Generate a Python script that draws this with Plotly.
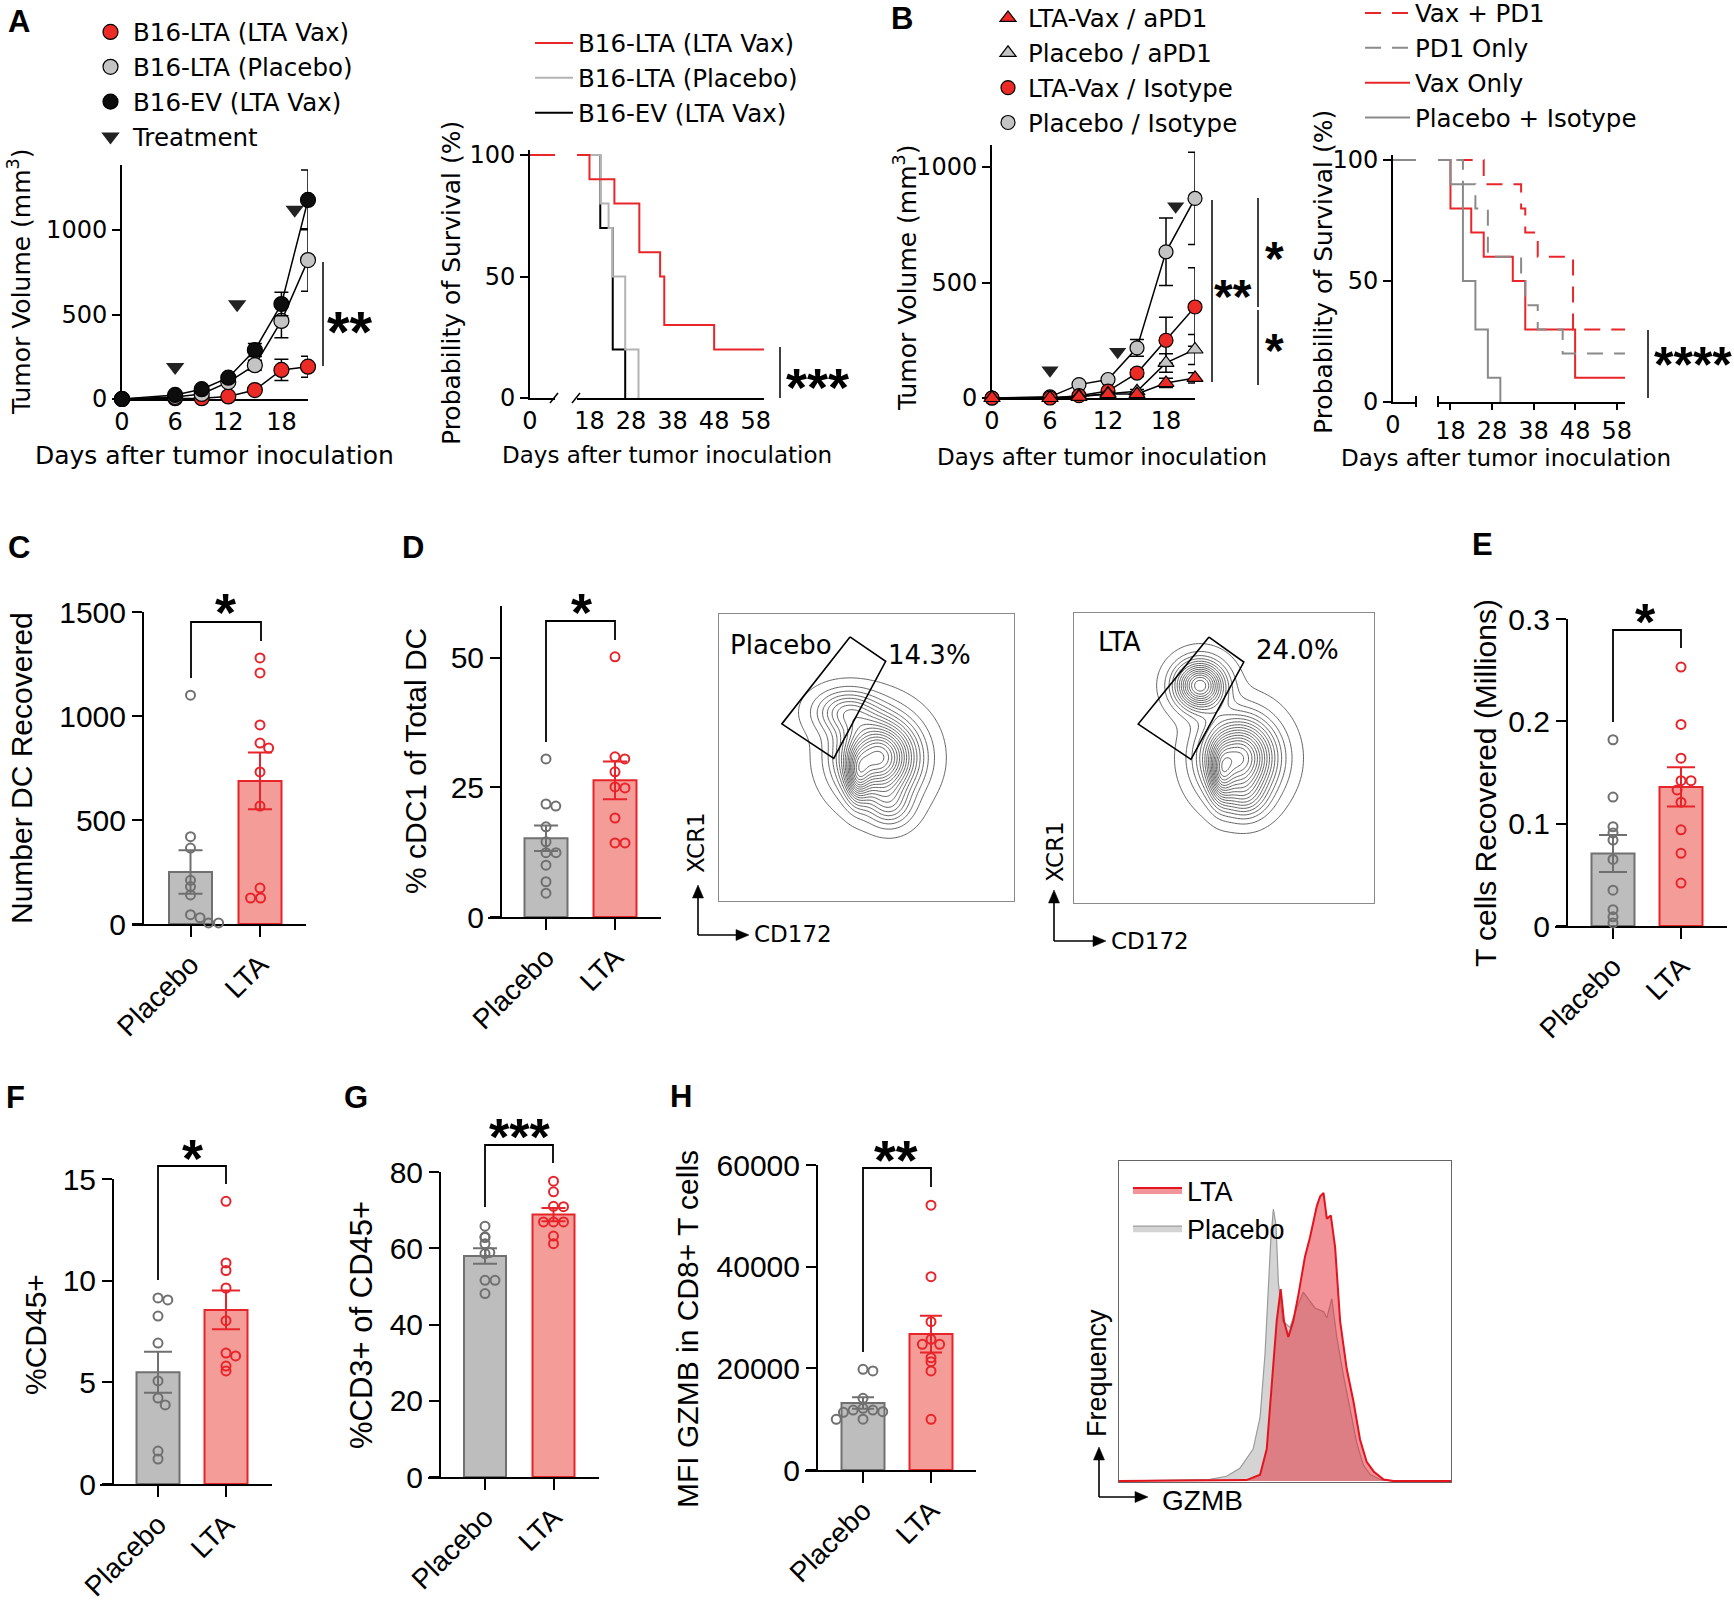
import math
import numpy as np
import plotly.graph_objects as go

# ======================= DATA =======================
# Panel A (left): tumour growth, mean +/- SEM (mm^3)
a_days = [0, 6, 9, 12, 15, 18, 21]
a_lta_vax = [0, 5, 5, 15, 53, 172, 191]
a_lta_vax_sem = [0, 0, 0, 5, 12, 63, 62]
a_placebo = [0, 12, 30, 100, 200, 462, 822]
a_placebo_sem = [0, 0, 5, 10, 30, 100, 185]
a_ev = [0, 24, 58, 126, 290, 562, 1178]
a_ev_sem = [0, 5, 8, 15, 38, 70, 177]
a_treat_days = [6, 13, 19.5]
a_treat_vol = [190, 560, 1120]
a_names = ["B16-LTA (LTA Vax)", "B16-LTA (Placebo)", "B16-EV (LTA Vax)", "Treatment"]

# Panel A (right): survival (%)
a_surv_lta_t = [0, 18, 24, 30, 35, 36, 48, 60]
a_surv_lta_s = [100, 90, 80, 60, 50, 30, 20, 20]
a_surv_plc_t = [0, 20.6, 22.6, 23.6, 26.6, 29.8]
a_surv_plc_s = [100, 80, 70, 50, 20, 0]
a_surv_ev_t = [0, 20.6, 23.6, 26.6]
a_surv_ev_s = [100, 70, 20, 0]

# Panel B (left): tumour growth
b_days = [0, 6, 9, 12, 15, 18, 21]
b_lta_apd1 = [0, 0, 5, 17, 17, 65, 87]
b_lta_apd1_sem = [0, 0, 0, 3, 5, 20, 22]
b_plc_apd1 = [0, 0, 8, 20, 29, 152, 210]
b_plc_apd1_sem = [0, 0, 0, 5, 8, 40, 65]
b_lta_iso = [0, 0, 10, 30, 108, 250, 394]
b_lta_iso_sem = [0, 0, 0, 5, 15, 100, 170]
b_plc_iso = [0, 5, 58, 80, 217, 633, 864]
b_plc_iso_sem = [0, 0, 5, 10, 36, 146, 200]
b_treat_days = [6, 13, 19]
b_treat_vol = [120, 200, 830]
b_names = ["LTA-Vax / aPD1", "Placebo / aPD1", "LTA-Vax / Isotype", "Placebo / Isotype"]

# Panel B (right): survival (%)
b_surv_vaxpd1_t = [0, 26, 35, 36, 39, 47.5, 60]
b_surv_vaxpd1_s = [100, 90, 80, 70, 60, 30, 30]
b_surv_pd1_t = [0, 21, 24, 27, 35, 36, 39, 45, 60]
b_surv_pd1_s = [100, 90, 80, 60, 50, 40, 30, 20, 20]
b_surv_vax_t = [0, 18, 23, 26, 33, 36, 48, 60]
b_surv_vax_s = [100, 80, 70, 60, 50, 30, 10, 10]
b_surv_plc_t = [0, 18, 21, 24, 27, 30]
b_surv_plc_s = [100, 90, 50, 30, 10, 0]
b_surv_names = ["Vax + PD1", "PD1 Only", "Vax Only", "Placebo + Isotype"]

# Bar / dot panels (individual animals)
categories = ["Placebo", "LTA"]
c_placebo = [1100, 420, 365, 210, 180, 140, 45, 30, 5, 5]
c_lta = [1279, 1207, 957, 870, 846, 731, 567, 173, 125, 125]
d_placebo = [30.5, 21.8, 21.4, 17.4, 14.5, 12.4, 12.4, 10.0, 6.8, 4.6]
d_lta = [50.2, 30.9, 30.5, 28.0, 25.1, 24.9, 19.1, 14.3, 14.3]
e_placebo = [0.182, 0.126, 0.097, 0.091, 0.084, 0.065, 0.035, 0.016, 0.009, 0.003]
e_lta = [0.253, 0.197, 0.164, 0.142, 0.142, 0.133, 0.121, 0.094, 0.071, 0.042]
f_placebo = [9.15, 9.05, 8.26, 6.93, 5.07, 4.23, 3.89, 1.62, 1.23]
f_lta = [13.9, 10.87, 10.5, 9.64, 8.03, 6.44, 6.3, 5.8, 5.56]
g_placebo = [65.8, 62.8, 63.0, 61.2, 58.9, 58.6, 51.6, 51.6, 48.1]
g_lta = [77.6, 74.8, 71.0, 70.9, 66.9, 66.9, 66.9, 63.2, 61.2]
h_placebo = [19800, 19500, 14100, 11800, 11800, 12130, 11470, 11340, 9970, 10000]
h_lta = [52100, 38030, 29180, 25700, 24720, 24720, 22100, 21300, 19480, 9970]

# Flow cytometry (D): density populations, CD172 (x) vs XCR1 (y), 0-100 scale
flow_plc_cx = [54, 58, 43, 47]
flow_plc_cy = [50, 33, 66, 43]
flow_plc_sx = [8.5, 5.0, 7.0, 2.6]
flow_plc_sy = [9.0, 5.0, 5.0, 6.0]
flow_plc_w = [1.0, 0.22, 0.33, 0.35]
flow_lta_cx = [55, 57, 42, 49]
flow_lta_cy = [50, 36, 75, 44]
flow_lta_sx = [8.0, 5.0, 5.5, 2.5]
flow_lta_sy = [9.0, 5.0, 5.5, 6.5]
flow_lta_w = [1.0, 0.22, 0.85, 0.35]
gate_plc_x = [44.4, 56.5, 38.9, 21.3, 44.4]
gate_plc_y = [92, 83.5, 49.7, 61.7, 92]
gate_lta_x = [45, 56.6, 39, 21.4, 45]
gate_lta_y = [91.7, 83.1, 49.5, 61.7, 91.7]
flow_pct = ["14.3%", "24.0%"]

# Panel H histogram (GZMB, % of max height)
hist_plc_x = [0, 27.4, 32.4, 36.4, 40.4, 42.5, 44.0, 45.0, 45.7, 46.5, 47.3, 48.0, 49.3, 51.5,
              53.5, 55.5, 57.0, 59.1, 61.6, 62.6, 64.1, 65.6, 67.6, 69.6, 71.6, 73.6, 75.7,
              78.7, 82.7, 100]
hist_plc_h = [0, 0.5, 1.5, 4, 10, 20, 40, 60, 75, 85, 80, 62, 50, 48,
              54, 59, 57, 54, 53, 51, 57, 45, 33, 22, 12, 5, 2,
              0.5, 0, 0]
hist_lta_x = [0, 38.4, 42.5, 44.5, 46.0, 47.5, 48.7, 49.7, 51.0, 52.5, 54.0, 56.0, 57.5, 59.6,
              60.6, 61.6, 62.6, 63.8, 65.1, 66.6, 68.6, 70.6, 72.6, 74.6, 76.7, 79.7, 82.7, 100]
hist_lta_h = [0, 0.3, 2, 10, 30, 50, 60, 50, 45, 50, 58, 70, 76, 86,
              89, 90, 82, 83, 73, 50, 35, 25, 13, 6, 3, 0.5, 0, 0]

# ======================= HELPERS =======================
W, H = 1734, 1603
FA = "DejaVu Sans, Verdana, sans-serif"          # wide font (panels A, B, flow)
FB = "Liberation Sans, Arial, Helvetica, sans-serif"  # GraphPad panels
RED = "#e8262a"
RED_FILL = "#ec2b26"
GRAY_FILL = "#c4c4c4"
GRAYBAR = "#bdbdbd"
GRAYEDGE = "#707070"
REDBAR = "#f49c97"
REDEDGE = "#e8242b"


def fx(p):
    return p / W


def fy(p):
    return 1 - p / H


def ydom(p0, v0, p1, v1, rmin, rmax):
    s = (p0 - p1) / (v1 - v0)
    return [fy(p0 + (v0 - rmin) * s), fy(p0 - (rmax - v0) * s)]


def axis(font=FA, size=24, **kw):
    base = dict(showline=True, linecolor="black", linewidth=2, ticks="outside",
                tickcolor="black", tickwidth=2, ticklen=8, showgrid=False,
                zeroline=False, tickfont=dict(family=font, size=size, color="black"),
                layer="below traces", fixedrange=True, automargin=False)
    base.update(kw)
    return base


fig = go.Figure()
layout = {}
anns = []
shapes = []


def text(x, y, s, size, font=FA, bold=False, angle=0, xanchor="center", yanchor="middle"):
    anns.append(dict(x=fx(x), y=fy(y), xref="paper", yref="paper",
                     text=("<b>%s</b>" % s) if bold else s, showarrow=False,
                     font=dict(family=font, size=size, color="black"),
                     textangle=angle, xanchor=xanchor, yanchor=yanchor))


def letter(x, y, s):
    text(x, y, s, 31, font=FB, bold=True)


def stars(x, y, s, size):
    text(x, y + 0.23 * size, s, size, font=FB, bold=True)


def pline(x0, y0, x1, y1, w=1.5, color="black"):
    shapes.append(dict(type="line", xref="paper", yref="paper", x0=fx(x0), y0=fy(y0),
                       x1=fx(x1), y1=fy(y1), line=dict(color=color, width=w)))


def bracket(xl, yl, xr, yr, ytop):
    shapes.append(dict(type="path", xref="paper", yref="paper",
                       path="M %f %f L %f %f L %f %f L %f %f" % (
                           fx(xl), fy(yl), fx(xl), fy(ytop), fx(xr), fy(ytop), fx(xr), fy(yr)),
                       line=dict(color="black", width=1.8)))


def axes_arrows(cx, cy, up, right):
    # L-shaped axis indicator with filled arrow heads
    pline(cx, cy, cx, up + 11, 1.6)
    pline(cx, cy, right - 11, cy, 1.6)
    shapes.append(dict(type="path", xref="paper", yref="paper",
                       path="M %f %f L %f %f L %f %f Z" % (fx(cx), fy(up), fx(cx - 5.5), fy(up + 13),
                                                           fx(cx + 5.5), fy(up + 13)),
                       fillcolor="black", line=dict(color="black", width=0.5)))
    shapes.append(dict(type="path", xref="paper", yref="paper",
                       path="M %f %f L %f %f L %f %f Z" % (fx(right), fy(cy), fx(right - 13), fy(cy - 5.5),
                                                           fx(right - 13), fy(cy + 5.5)),
                       fillcolor="black", line=dict(color="black", width=0.5)))


def swarm(vals, ppy, ppx, diam=10.0):
    # simple beeswarm in pixel space, balancing points left/right of the centre
    order = sorted(range(len(vals)), key=lambda i: -vals[i])
    placed = []
    offs = [0.0] * len(vals)
    for i in order:
        y = vals[i] * ppy
        cands = [0.0]
        near = []
        for a, b in placed:
            dv = abs(y - b)
            if dv < diam:
                near.append(a)
                d = math.sqrt(diam * diam - dv * dv)
                cands += [a + d, a - d]
        nright = sum(1 for a in near if a > 1e-6)
        nleft = sum(1 for a in near if a < -1e-6)
        prefer_neg = nright > nleft
        cands = sorted(set(round(c, 6) for c in cands),
                       key=lambda c: (round(abs(c), 2), (c > 0) if prefer_neg else (c < 0)))
        chosen = 0.0
        for c in cands:
            if all((c - a) ** 2 + (y - b) ** 2 >= diam * diam - 1e-6 for a, b in placed):
                chosen = c
                break
        placed.append((chosen, y))
        offs[i] = chosen / ppx
    return offs


# ======================= PANEL A: growth =======================
layout["xaxis"] = axis(domain=[fx(122), fx(308)], range=[0, 21], anchor="y",
                       tickvals=[0, 6, 12, 18], ticklen=0)
layout["yaxis"] = axis(domain=ydom(399, 0, 230, 1000, 0, 1385), range=[0, 1385],
                       anchor="x", tickvals=[0, 500, 1000])
a_series = [(a_lta_vax, a_lta_vax_sem, RED_FILL), (a_placebo, a_placebo_sem, GRAY_FILL),
            (a_ev, a_ev_sem, "#0d0d0d")]
for vals, sem, col in a_series:
    fig.add_trace(go.Scatter(x=a_days, y=vals, mode="lines", line=dict(color="black", width=1.5),
                             xaxis="x", yaxis="y", showlegend=False, hoverinfo="skip"))
for k, (vals, sem, col) in enumerate(a_series):
    fig.add_trace(go.Scatter(x=a_days, y=vals, mode="markers", name=a_names[k],
                             marker=dict(color=col, size=15, line=dict(color="black", width=1.2)),
                             error_y=dict(type="data", array=sem, color="black", thickness=1.5, width=7),
                             cliponaxis=False, xaxis="x", yaxis="y", legend="legend",
                             legendrank=k + 1, hoverinfo="skip"))
fig.add_trace(go.Scatter(x=a_treat_days, y=a_treat_vol, mode="markers", name=a_names[3],
                         marker=dict(symbol="triangle-down", size=16, color="#222222"),
                         cliponaxis=False, xaxis="x", yaxis="y", legend="legend", legendrank=4,
                         hoverinfo="skip"))
text(19, 282, "Tumor Volume (mm<sup>3</sup>)", 25, angle=-90)
text(214, 455, "Days after tumor inoculation", 25)
pline(323, 262, 323, 366)
stars(350, 318, "**", 58)
letter(19, 21, "A")

# ======================= PANEL A: survival =======================
layout["yaxis2"] = axis(domain=ydom(398, 0, 155, 100, 0, 102), range=[0, 102], anchor="x2",
                        tickvals=[0, 50, 100])
layout["xaxis2"] = axis(domain=[fx(530), fx(555)], range=[0, 6], anchor="y2", tickvals=[0], ticklen=0)
layout["xaxis3"] = axis(domain=[fx(577), fx(764)], range=[15, 60], anchor="y2",
                        tickvals=[18, 28, 38, 48, 58], ticklen=0)


def surv(t, s, color, dash, name, xa1, xa2, ya, legend, rank, width=2):
    for xa, show in ((xa1, False), (xa2, True)):
        fig.add_trace(go.Scatter(x=t, y=s, mode="lines",
                                 line=dict(color=color, width=width, dash=dash, shape="hv"),
                                 xaxis=xa, yaxis=ya, name=name, showlegend=show, legend=legend,
                                 legendrank=rank, hoverinfo="skip"))


surv(a_surv_ev_t, a_surv_ev_s, "black", "solid", a_names[2], "x2", "x3", "y2", "legend2", 3)
surv(a_surv_plc_t, a_surv_plc_s, "#b3b3b3", "solid", a_names[1], "x2", "x3", "y2", "legend2", 2)
surv(a_surv_lta_t, a_surv_lta_s, RED, "solid", a_names[0], "x2", "x3", "y2", "legend2", 1)
pline(550, 403, 558, 393)
pline(572, 403, 580, 393)
text(452, 283, "Probability of Survival (%)", 25, angle=-90)
text(667, 455, "Days after tumor inoculation", 23)
pline(780, 347, 780, 398)
stars(817, 375, "***", 54)

# ======================= PANEL B: growth =======================
layout["xaxis4"] = axis(domain=[fx(992), fx(1195)], range=[0, 21], anchor="y3",
                        tickvals=[0, 6, 12, 18], ticklen=0)
layout["yaxis3"] = axis(domain=ydom(398, 0, 167, 1000, 0, 1095), range=[0, 1095], anchor="x4",
                        tickvals=[0, 500, 1000])
b_series = [(b_plc_iso, b_plc_iso_sem, GRAY_FILL, "circle", b_names[3], 4),
            (b_lta_iso, b_lta_iso_sem, RED_FILL, "circle", b_names[2], 3),
            (b_plc_apd1, b_plc_apd1_sem, GRAY_FILL, "triangle-up", b_names[1], 2),
            (b_lta_apd1, b_lta_apd1_sem, RED_FILL, "triangle-up", b_names[0], 1)]
for vals, sem, col, sym, nm, rk in b_series:
    fig.add_trace(go.Scatter(x=b_days, y=vals, mode="lines", line=dict(color="black", width=1.5),
                             xaxis="x4", yaxis="y3", showlegend=False, hoverinfo="skip"))
for vals, sem, col, sym, nm, rk in b_series:
    fig.add_trace(go.Scatter(x=b_days, y=vals, mode="markers", name=nm,
                             marker=dict(color=col, size=14, symbol=sym,
                                         line=dict(color="black", width=1.2)),
                             error_y=dict(type="data", array=sem, color="black", thickness=1.5, width=7),
                             cliponaxis=False, xaxis="x4", yaxis="y3", legend="legend3",
                             legendrank=rk, hoverinfo="skip"))
fig.add_trace(go.Scatter(x=b_treat_days, y=b_treat_vol, mode="markers",
                         marker=dict(symbol="triangle-down", size=15, color="#222222"),
                         cliponaxis=False, xaxis="x4", yaxis="y3", showlegend=False, hoverinfo="skip"))
text(905, 278, "Tumor Volume (mm<sup>3</sup>)", 25, angle=-90)
text(1102, 457, "Days after tumor inoculation", 23)
pline(1212, 200, 1212, 382)
pline(1258, 198, 1258, 307)
pline(1258, 310, 1258, 385)
stars(1233, 285, "**", 48)
stars(1274, 247, "*", 48)
stars(1274, 339, "*", 48)
letter(902, 19, "B")

# ======================= PANEL B: survival =======================
layout["yaxis4"] = axis(domain=ydom(402, 0, 160, 100, 0, 102), range=[0, 102], anchor="x5",
                        tickvals=[0, 50, 100])
layout["xaxis5"] = axis(domain=[fx(1393), fx(1416)], range=[0, 6], anchor="y4", tickvals=[0], ticklen=0)
layout["xaxis6"] = axis(domain=[fx(1438), fx(1625)], range=[15, 60], anchor="y4",
                        tickvals=[18, 28, 38, 48, 58], ticklen=6)
DASH = "16px,11px"
surv(b_surv_vax_t, b_surv_vax_s, RED, "solid", b_surv_names[2], "x5", "x6", "y4", "legend4", 3)
surv(b_surv_vaxpd1_t, b_surv_vaxpd1_s, RED, DASH, b_surv_names[0], "x5", "x6", "y4", "legend4", 1)
surv(b_surv_pd1_t, b_surv_pd1_s, "#8a8a8a", DASH, b_surv_names[1], "x5", "x6", "y4", "legend4", 2)
surv(b_surv_plc_t, b_surv_plc_s, "#8a8a8a", "solid", b_surv_names[3], "x5", "x6", "y4", "legend4", 4)
pline(1416, 396, 1416, 407, 2)
pline(1438, 396, 1438, 407, 2)
text(1323, 272, "Probability of Survival (%)", 25, angle=-90)
text(1506, 458, "Days after tumor inoculation", 23)
pline(1648, 330, 1648, 398)
stars(1693, 353, "****", 50)

# ======================= BAR / DOT PANELS =======================
bar_panels = [
    ("7", "5", c_placebo, c_lta, dict(yx=143, y0=924, yt=612, ytv=1500, xl=132, xr=306, t0=190.5, t1=260,
                                      bw=43, cap=12, ticks=[0, 500, 1000, 1500])),
    ("8", "6", d_placebo, d_lta, dict(yx=501, y0=917, yt=606, ytv=60, xl=488, xr=661, t0=546, t1=615,
                                      bw=43, cap=12, ticks=[0, 25, 50])),
    ("11", "9", e_placebo, e_lta, dict(yx=1567, y0=926, yt=619, ytv=0.3, xl=1555, xr=1727, t0=1613,
                                       t1=1681, bw=43, cap=14, ticks=[0, 0.1, 0.2, 0.3])),
    ("12", "10", f_placebo, f_lta, dict(yx=113, y0=1484, yt=1179, ytv=15, xl=100, xr=272, t0=158, t1=226,
                                        bw=43, cap=14, ticks=[0, 5, 10, 15])),
    ("13", "11", g_placebo, g_lta, dict(yx=440, y0=1477, yt=1172, ytv=80, xl=428, xr=599, t0=485,
                                        t1=553.5, bw=42, cap=12, ticks=[0, 20, 40, 60, 80])),
    ("14", "12", h_placebo, h_lta, dict(yx=817, y0=1470, yt=1165, ytv=60000, xl=805, xr=976, t0=863,
                                        t1=931, bw=43, cap=11, ticks=[0, 20000, 40000, 60000])),
]
for xn, yn, plc, lta, g in bar_panels:
    ppx = g["t1"] - g["t0"]
    ppy = (g["y0"] - g["yt"]) / g["ytv"]
    layout["xaxis" + xn] = axis(font=FB, size=28, domain=[fx(g["xl"]), fx(g["xr"])],
                                range=[(g["xl"] - g["t0"]) / ppx, (g["xr"] - g["t0"]) / ppx],
                                anchor="y" + yn, tickvals=[0, 1], ticktext=categories, tickangle=-45,
                                ticklen=11)
    yk = axis(font=FB, size=30, domain=[fy(g["y0"]), fy(g["yt"])], range=[0, g["ytv"]], anchor="free",
              position=fx(g["yx"]), tickvals=g["ticks"], ticklen=10)
    if g["ytv"] >= 1000:
        yk["tickformat"] = "d"
    layout["yaxis" + yn] = yk
    for k, (vals, fill, edge) in enumerate([(plc, GRAYBAR, GRAYEDGE), (lta, REDBAR, REDEDGE)]):
        arr = np.array(vals, dtype=float)
        m = float(arr.mean())
        sem = float(arr.std(ddof=1) / math.sqrt(len(arr)))
        fig.add_trace(go.Bar(x=[k], y=[m], width=[g["bw"] / ppx],
                             marker=dict(color=fill, line=dict(color=edge, width=2)),
                             error_y=dict(type="data", array=[sem], color=edge, thickness=2, width=g["cap"]),
                             xaxis="x" + xn, yaxis="y" + yn, showlegend=False, hoverinfo="skip"))
        offs = swarm(vals, ppy, ppx, 10.0)
        fig.add_trace(go.Scatter(x=[k + o for o in offs], y=vals, mode="markers",
                                 marker=dict(symbol="circle-open", size=9, color=edge,
                                             line=dict(width=2, color=edge)),
                                 cliponaxis=False, xaxis="x" + xn, yaxis="y" + yn,
                                 showlegend=False, hoverinfo="skip"))

# panel titles, brackets, stars
text(22, 768, "Number DC Recovered", 30, font=FB, angle=-90)
bracket(191, 678, 261, 641, 622)
stars(226, 600, "*", 54)
letter(18.5, 547, "C")

text(415, 761, "% cDC1 of Total DC", 30, font=FB, angle=-90)
bracket(546, 742, 615, 640, 621)
stars(581, 600, "*", 54)
letter(413, 547, "D")

text(1485, 783, "T cells Recovered (Millions)", 30, font=FB, angle=-90)
bracket(1613, 722, 1681, 648, 630)
stars(1645, 610, "*", 52)
letter(1482, 544, "E")

text(35, 1335, "%CD45+", 30, font=FB, angle=-90)
bracket(158, 1280, 226, 1184, 1166)
stars(192, 1146, "*", 54)
letter(15, 1097, "F")

text(361, 1325, "%CD3+ of CD45+", 31, font=FB, angle=-90)
bracket(485, 1207, 553, 1163, 1145)
stars(519, 1125, "***", 52)
letter(356, 1097, "G")

text(687, 1329, "MFI GZMB in CD8+ T cells", 30, font=FB, angle=-90)
bracket(863, 1352, 931, 1187, 1168)
stars(896, 1147, "**", 56)
letter(681, 1096, "H")

# ======================= FLOW CONTOURS =======================
grid = np.linspace(0, 100, 201)
GX, GY = np.meshgrid(grid, grid)


def density(cx, cy, sx, sy, w):
    z = np.zeros_like(GX)
    for a, b, c, d, e in zip(cx, cy, sx, sy, w):
        z += e * np.exp(-0.5 * (((GX - a) / c) ** 2 + ((GY - b) / d) ** 2))
    return z


box_axis = dict(showline=True, mirror=True, linecolor="#8a8a8a", linewidth=1, ticks="",
                showticklabels=False, showgrid=False, zeroline=False, fixedrange=True,
                automargin=False)
flows = [("9", "7", (719, 1014, 614, 901), (flow_plc_cx, flow_plc_cy, flow_plc_sx, flow_plc_sy, flow_plc_w),
          gate_plc_x, gate_plc_y),
         ("10", "8", (1074, 1374, 613, 903), (flow_lta_cx, flow_lta_cy, flow_lta_sx, flow_lta_sy, flow_lta_w),
          gate_lta_x, gate_lta_y)]
for xn, yn, (x0, x1, y0, y1), pops, gx, gy in flows:
    layout["xaxis" + xn] = dict(box_axis, domain=[fx(x0), fx(x1)], range=[0, 100], anchor="y" + yn)
    layout["yaxis" + yn] = dict(box_axis, domain=[fy(y1), fy(y0)], range=[0, 100], anchor="x" + xn)
    z = density(*pops)
    zm = float(z.max())
    fig.add_trace(go.Contour(x=grid, y=grid, z=z, showscale=False, hoverinfo="skip",
                             contours=dict(coloring="lines", start=zm * 0.025, end=zm * 0.97,
                                           size=zm * 0.945 / 17),
                             line=dict(width=0.8), colorscale=[[0, "#3a3a3a"], [1, "#3a3a3a"]],
                             xaxis="x" + xn, yaxis="y" + yn))
    fig.add_trace(go.Scatter(x=gx, y=gy, mode="lines", line=dict(color="black", width=1.6),
                             xaxis="x" + xn, yaxis="y" + yn, showlegend=False, hoverinfo="skip"))

text(728, 645, "Placebo", 26, xanchor="left")
text(886, 655, flow_pct[0], 26, xanchor="left")
text(1096, 642, "LTA", 26, xanchor="left")
text(1254, 650, flow_pct[1], 26, xanchor="left")
axes_arrows(698, 935, 885, 749)
text(696, 843, "XCR1", 23, angle=-90)
text(752, 934, "CD172", 23, xanchor="left")
axes_arrows(1054, 941, 890, 1106)
text(1055, 852, "XCR1", 23, angle=-90)
text(1109, 941, "CD172", 23, xanchor="left")

# ======================= HISTOGRAM =======================
layout["xaxis15"] = dict(box_axis, domain=[fx(1119), fx(1451)], range=[0, 100], anchor="y13",
                         linecolor="#666666")
layout["yaxis13"] = dict(box_axis, domain=[fy(1482), fy(1161)], range=[-0.3, 100], anchor="x15",
                         linecolor="#666666")
fig.add_trace(go.Scatter(x=hist_plc_x, y=hist_plc_h, mode="lines", fill="tozeroy",
                         fillcolor="#d4d4d4", line=dict(color="#9a9a9a", width=1.2),
                         name="Placebo", legend="legend5", legendrank=2,
                         xaxis="x15", yaxis="y13", hoverinfo="skip"))
fig.add_trace(go.Scatter(x=hist_lta_x, y=hist_lta_h, mode="lines", fill="tozeroy",
                         fillcolor="rgba(228,40,52,0.5)", line=dict(color="#e3141e", width=2),
                         name="LTA", legend="legend5", legendrank=1,
                         xaxis="x15", yaxis="y13", hoverinfo="skip"))
axes_arrows(1099, 1497, 1447, 1148)
text(1097, 1373, "Frequency", 27, font=FB, angle=-90)
text(1160, 1500, "GZMB", 28, font=FB, xanchor="left")

# ======================= LAYOUT =======================


def leg(x, ytop, size, itemwidth, font=FA):
    return dict(x=fx(x), y=fy(ytop), xanchor="left", yanchor="top", bgcolor="rgba(0,0,0,0)",
                font=dict(family=font, size=size, color="black"), itemwidth=itemwidth,
                tracegroupgap=0, itemclick=False, itemdoubleclick=False)


layout["legend"] = leg(88, 9.5, 24.5, 35)
layout["legend2"] = leg(530, 20.5, 24.5, 38)
layout["legend3"] = leg(988, -4.5, 24.5, 30)
layout["legend4"] = leg(1360, -9.5, 24.5, 45)
layout["legend5"] = leg(1128, 1166, 27, 49, font=FB)

fig.update_layout(**layout)
fig.update_layout(width=W, height=H, margin=dict(l=0, r=0, t=0, b=0, pad=0, autoexpand=False),
                  paper_bgcolor="white", plot_bgcolor="rgba(0,0,0,0)", barmode="overlay",
                  annotations=anns, shapes=shapes, font=dict(family=FB, color="black"),
                  hovermode=False)
fig.write_html("out.html", config={"displayModeBar": False})
